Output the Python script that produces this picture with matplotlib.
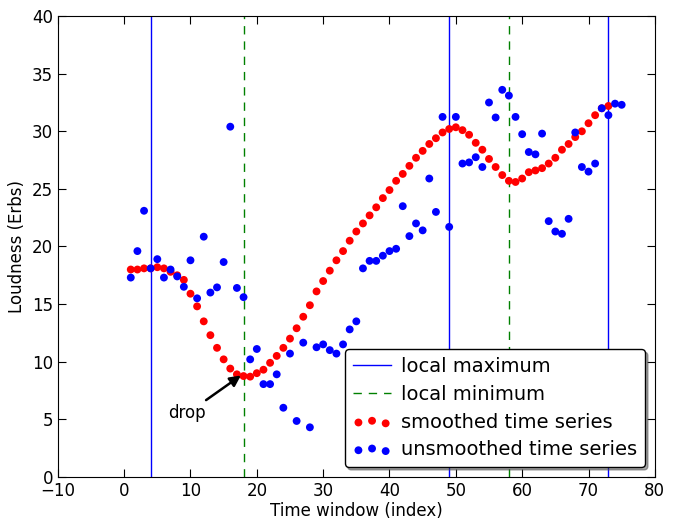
import matplotlib
matplotlib.use("Agg")
import matplotlib.pyplot as plt
import numpy as np

plt.rcParams["xtick.direction"] = "in"
plt.rcParams["ytick.direction"] = "in"
plt.rcParams["xtick.top"] = True
plt.rcParams["ytick.right"] = True
plt.rcParams["xtick.major.size"] = 6
plt.rcParams["ytick.major.size"] = 6
plt.rcParams["font.size"] = 12

# smoothed loudness, window 1..73
smoothed = [18.0, 18.0, 18.1, 18.1, 18.2, 18.1, 17.8, 17.5, 17.1, 15.9,
            14.8, 13.5, 12.3, 11.2, 10.2, 9.4, 8.9, 8.75, 8.7, 9.0,
            9.3, 9.9, 10.5, 11.2, 12.0, 12.9, 13.9, 14.9, 16.1, 17.0,
            17.9, 18.8, 19.6, 20.5, 21.3, 22.0, 22.7, 23.4, 24.2, 24.9,
            25.7, 26.3, 27.0, 27.7, 28.3, 28.9, 29.4, 29.9, 30.2, 30.35,
            30.1, 29.7, 29.0, 28.4, 27.6, 26.9, 26.2, 25.7, 25.6, 25.9,
            26.45, 26.6, 26.8, 27.2, 27.7, 28.4, 28.9, 29.5, 30.0, 30.7,
            31.4, 32.0, 32.2]

# raw loudness, window 1..75
unsmoothed = [17.3, 19.6, 23.1, 18.1, 18.9, 17.3, 18.0, 17.4, 16.5, 18.8,
              15.5, 20.85, 16.0, 16.45, 18.65, 30.4, 16.4, 15.6, 10.2, 11.1,
              8.05, 8.05, 8.9, 6.0, 10.7, 4.85, 11.65, 4.3, 11.25, 11.5,
              11.0, 10.7, 11.5, 12.8, 13.5, 18.1, 18.75, 18.75, 19.2, 19.6,
              19.8, 23.5, 20.9, 22.0, 21.4, 25.9, 23.0, 31.25, 21.7, 31.25,
              27.2, 27.3, 27.75, 26.9, 32.5, 31.2, 33.6, 33.1, 31.25, 29.75,
              28.2, 28.0, 29.8, 22.2, 21.3, 21.1, 22.4, 29.9, 26.9, 26.5,
              27.2, 32.0, 31.4, 32.4, 32.3]

local_max = [4, 49, 73]
local_min = [18, 58]

x_s = np.arange(1, len(smoothed) + 1)
x_u = np.arange(1, len(unsmoothed) + 1)

fig = plt.figure(figsize=(6.8, 5.2), dpi=100)
ax = fig.add_axes([0.085, 0.083, 0.878, 0.886])

for i, xm in enumerate(local_max):
    ax.axvline(xm, color="b", linewidth=1, label="local maximum" if i == 0 else None)
for i, xm in enumerate(local_min):
    ax.axvline(xm, color="g", linewidth=1, linestyle="--", dashes=(6, 5),
               label="local minimum" if i == 0 else None)

ax.scatter(x_s, smoothed, s=32, color="r", edgecolors="none",
           label="smoothed time series", zorder=3)
ax.scatter(x_u, unsmoothed, s=32, color="b", edgecolors="none",
           label="unsmoothed time series", zorder=4)

ax.annotate("drop", xy=(17.6, 8.8), xytext=(9.5, 5.5), ha="center", va="center",
            fontsize=12,
            arrowprops=dict(arrowstyle="-|>", color="black", lw=1.8,
                            mutation_scale=16, shrinkA=2, shrinkB=0))

ax.set_xlim(-10, 80)
ax.set_ylim(0, 40)
ax.tick_params(axis="x", pad=4)
ax.set_xlabel("Time window (index)", fontsize=12, labelpad=1)
ax.set_ylabel("Loudness (Erbs)", fontsize=12)

leg = ax.legend(loc="lower right", fontsize=14, scatterpoints=3,
                scatteryoffsets=[0.375, 0.5, 0.3125], shadow=True,
                fancybox=True, framealpha=1, borderaxespad=0.5,
                handlelength=2.0, handletextpad=0.5, labelspacing=0.45)
leg.get_frame().set_edgecolor("black")

fig.savefig("out.png", dpi=100, facecolor="white")
